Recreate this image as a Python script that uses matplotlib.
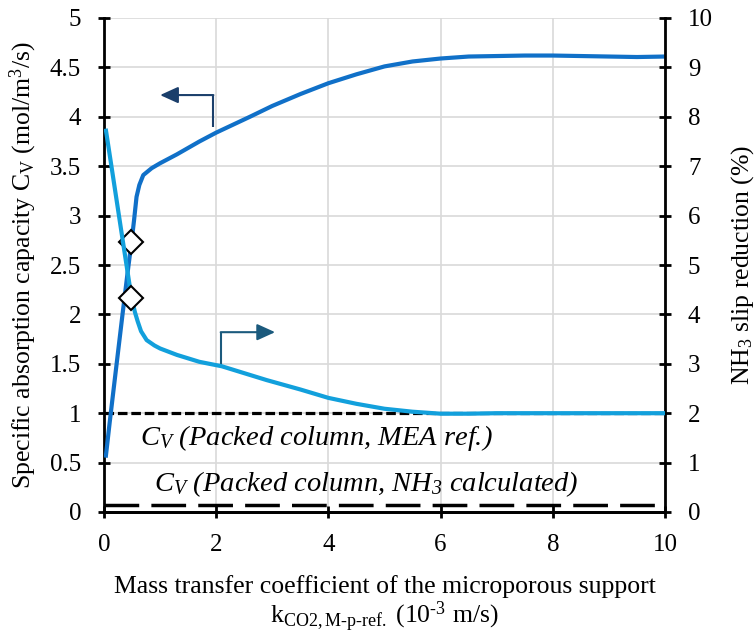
import numpy as np
import matplotlib
matplotlib.use("Agg")
import matplotlib.pyplot as plt
from matplotlib.ticker import MultipleLocator, FuncFormatter

plt.rcParams["font.family"] = ["Liberation Serif", "DejaVu Serif"]
plt.rcParams["mathtext.fontset"] = "custom"
plt.rcParams["mathtext.rm"] = "Liberation Serif"
plt.rcParams["mathtext.it"] = "Liberation Serif:italic"
plt.rcParams["mathtext.bf"] = "Liberation Serif:bold"

# Specific absorption capacity C_V (left axis)
k_cv = [0.03, 0.10, 0.20, 0.33, 0.42, 0.49, 0.535, 0.58, 0.63, 0.70, 0.85, 1.0,
        1.3, 1.7, 2.0, 2.6, 3.0, 3.5, 4.0, 4.5, 5.0, 5.5, 6.0, 6.5, 7.0, 7.5,
        8.0, 8.5, 9.0, 9.5, 10.0]
cv = [0.55, 0.90, 1.38, 2.00, 2.42, 2.73, 2.95, 3.19, 3.31, 3.41, 3.48, 3.53,
      3.62, 3.75, 3.84, 4.00, 4.11, 4.23, 4.34, 4.43, 4.51, 4.56, 4.59, 4.61,
      4.615, 4.62, 4.62, 4.615, 4.61, 4.605, 4.61]

# NH3 slip reduction (right axis, %)
k_nh3 = [0.03, 0.15, 0.30, 0.49, 0.55, 0.60, 0.66, 0.76, 0.90, 1.0, 1.3, 1.7,
         2.1, 2.5, 2.9, 3.5, 4.0, 4.5, 5.0, 5.5, 6.0, 6.5, 7.0, 8.0, 9.0, 10.0]
nh3_slip = [7.76, 6.87, 5.75, 4.34, 4.05, 3.86, 3.66, 3.48, 3.37, 3.31, 3.18,
            3.04, 2.95, 2.81, 2.67, 2.48, 2.31, 2.19, 2.09, 2.03, 1.99, 1.99,
            2.0, 2.0, 2.0, 2.0]

# highlighted points
k_mark = 0.49
cv_mark = 2.73
nh3_mark = 4.34

# reference levels (left axis)
cv_mea_ref = 1.0
cv_nh3_calc = 0.07
x_range = [0, 10]

# elbow arrows: (x, y) in left-axis data units
arrow_left = [(1.95, 3.90), (1.95, 4.22), (1.0, 4.22)]
arrow_right = [(2.08, 1.49), (2.08, 1.82), (3.05, 1.82)]

dark_blue = "#1070c8"
light_blue = "#12a0dc"

fig = plt.figure(figsize=(7.56, 6.35), dpi=100)
ax = fig.add_axes([104 / 756, 1 - 512 / 635, (665 - 104) / 756, (512 - 18) / 635])
ax2 = ax.twinx()

ax.set_xlim(0, 10)
ax.set_ylim(0, 5)
ax2.set_ylim(0, 10)

ax.grid(True, color="#d9d9d9", lw=1.2)
ax.set_axisbelow(True)

# reference lines
ax.plot(x_range, [cv_mea_ref] * 2, color="black", lw=2.3, dashes=(3, 1.2), zorder=3)
ax.plot(x_range, [cv_nh3_calc] * 2, color="black", lw=2.5, dashes=(10, 3.5), zorder=3)

ax.plot(k_cv, cv, color=dark_blue, lw=3, solid_joinstyle="round",
        solid_capstyle="butt", zorder=4)
ax2.plot(k_nh3, nh3_slip, color=light_blue, lw=3, solid_joinstyle="round",
         solid_capstyle="butt", zorder=4)
ax.plot([k_mark], [cv_mark], "D", ms=12, mfc="white", mec="black", mew=1.5, zorder=6)
ax2.plot([k_mark], [nh3_mark], "D", ms=12, mfc="white", mec="black", mew=1.5, zorder=6)

# elbow arrows
for pts, col in [(arrow_left, "#1b3f6b"), (arrow_right, "#1b5a7d")]:
    ax.plot([p[0] for p in pts[:2]], [p[1] for p in pts[:2]], color=col, lw=1.5,
            solid_capstyle="butt", zorder=5)
    ax.annotate("", xy=pts[2], xytext=pts[1],
                arrowprops=dict(arrowstyle="-|>,head_length=1.1,head_width=0.5",
                                color=col, lw=1.5, shrinkA=0, shrinkB=0), zorder=5)

ax.text(0.65, 0.75, r"$C_V$ (Packed column, MEA ref.)", style="italic",
        fontsize=20.5, va="center", ha="left", zorder=5)
ax.text(0.89, 0.28, r"$C_V$ (Packed column, NH$_{\mathregular{3}}$ calculated)",
        style="italic", fontsize=20.5, va="center", ha="left", zorder=5)

fmt = FuncFormatter(lambda v, p: "{:g}".format(v))
ax.xaxis.set_major_locator(MultipleLocator(2))
ax.yaxis.set_major_locator(MultipleLocator(0.5))
ax2.yaxis.set_major_locator(MultipleLocator(1))
ax.xaxis.set_major_formatter(fmt)
ax.yaxis.set_major_formatter(fmt)
ax2.yaxis.set_major_formatter(fmt)

for a in (ax, ax2):
    a.spines["top"].set_visible(False)
    for s in a.spines.values():
        s.set_linewidth(2)
    a.tick_params(labelsize=18, width=2, length=9, direction="inout", pad=12)
ax.spines["right"].set_visible(False)
ax2.spines["left"].set_visible(False)
ax.tick_params(axis="x", pad=11)

ax.set_ylabel(r"Specific absorption capacity C$_{\mathregular{V}}$ (mol/m$^{\mathregular{3}}$/s)",
              fontsize=18.5, labelpad=8)
ax2.set_ylabel(r"NH$_{\mathregular{3}}$ slip reduction (%)", fontsize=18.5, labelpad=12)
ax.set_xlabel("Mass transfer coefficient of the microporous support\n"
              "k$_{\\mathregular{CO2,M\u2010p\u2010ref.}}$ (10$^{\\mathregular{\u20103}}$ m/s)",
              fontsize=18.5, labelpad=14, linespacing=1.05)

fig.savefig("out.png", dpi=100)
